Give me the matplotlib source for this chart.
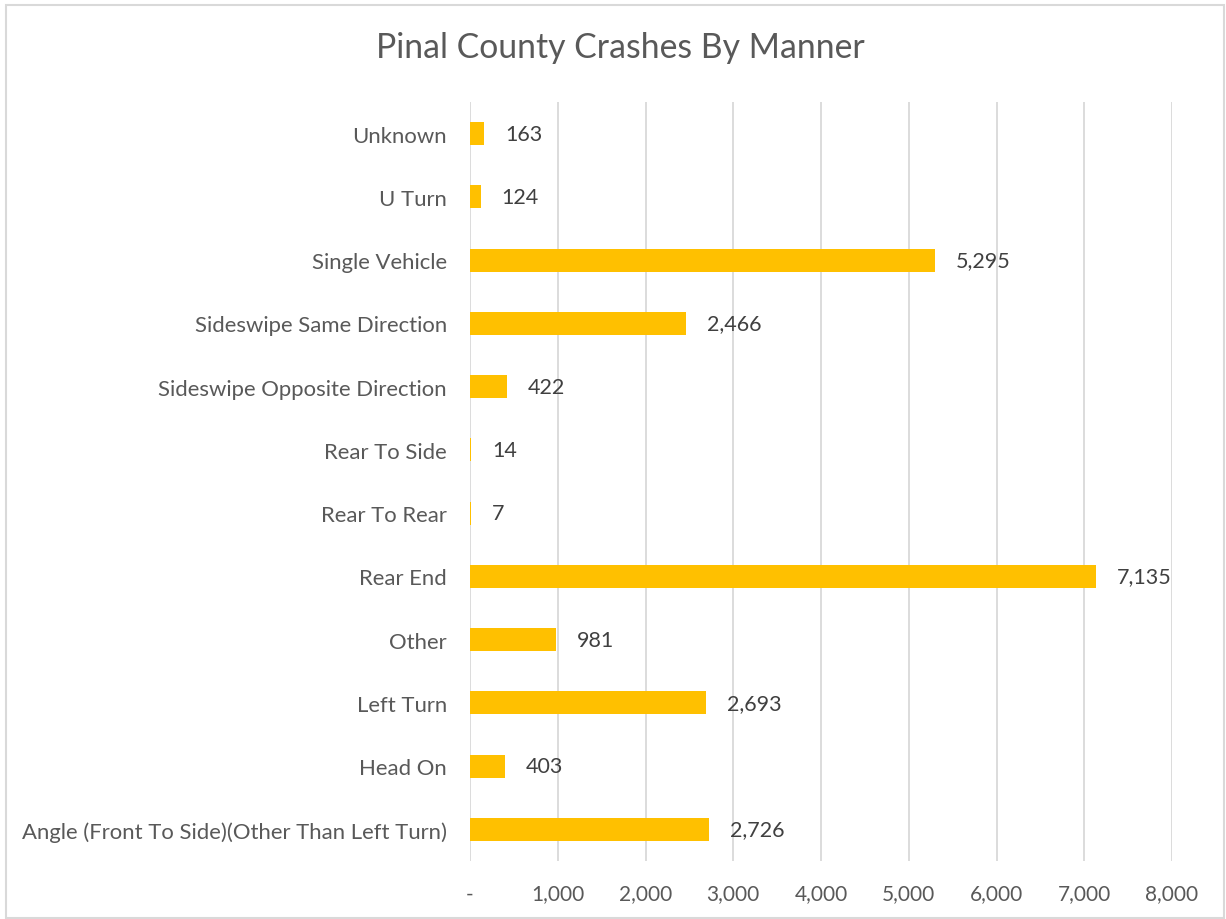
import matplotlib
matplotlib.use("Agg")
import matplotlib.pyplot as plt
from matplotlib.patches import Rectangle
from matplotlib.ticker import FuncFormatter

categories = ["Angle (Front To Side)(Other Than Left Turn)", "Head On", "Left Turn", "Other",
              "Rear End", "Rear To Rear", "Rear To Side", "Sideswipe Opposite Direction",
              "Sideswipe Same Direction", "Single Vehicle", "U Turn", "Unknown"]
values = [2726, 403, 2693, 981, 7135, 7, 14, 422, 2466, 5295, 124, 163]
x_ticks = [0, 1000, 2000, 3000, 4000, 5000, 6000, 7000, 8000]
title = "Pinal County Crashes By Manner"

plt.rcParams['font.family'] = ['Lato', 'DejaVu Sans']

W, H = 1226, 920
fig = plt.figure(figsize=(W / 100, H / 100), dpi=100)
ax = fig.add_axes([470 / W, 1 - 862 / H, (1172 - 470) / W, (862 - 103) / H])

ypos = list(range(len(categories)))
ax.barh(ypos, values, height=0.36, color="#FFC000", zorder=3)
ax.set_ylim(-0.5, len(categories) - 0.5)
ax.set_xlim(0, 8000)
ax.set_yticks(ypos)
ax.set_yticklabels(categories)
ax.set_xticks(x_ticks)
ax.xaxis.set_major_formatter(FuncFormatter(lambda v, p: "-" if v == 0 else f"{int(v):,}"))
ax.tick_params(axis='both', length=0, colors="#595959")
ax.tick_params(axis='y', pad=16.5, labelsize=15.9)
ax.tick_params(axis='x', pad=16, labelsize=15)
for s in ax.spines.values():
    s.set_visible(False)
ax.grid(axis='x', color="#D9D9D9", linewidth=1.3, zorder=0)
ax.set_axisbelow(True)

for y, v in zip(ypos, values):
    ax.annotate(f"{v:,}", (v, y), xytext=(15, 0), textcoords="offset points",
                va="center", ha="left", fontsize=15.5, color="#404040")

fig.text(620 / W, 1 - 48 / H, title, ha="center", va="center", fontsize=24.3, color="#595959")

fig.patches.append(Rectangle((6 / W, 1 / H), (W - 8) / W, (H - 7) / H, transform=fig.transFigure,
                             fill=False, edgecolor="#D9D9D9", linewidth=1.5))

fig.savefig("out.png", dpi=100)
